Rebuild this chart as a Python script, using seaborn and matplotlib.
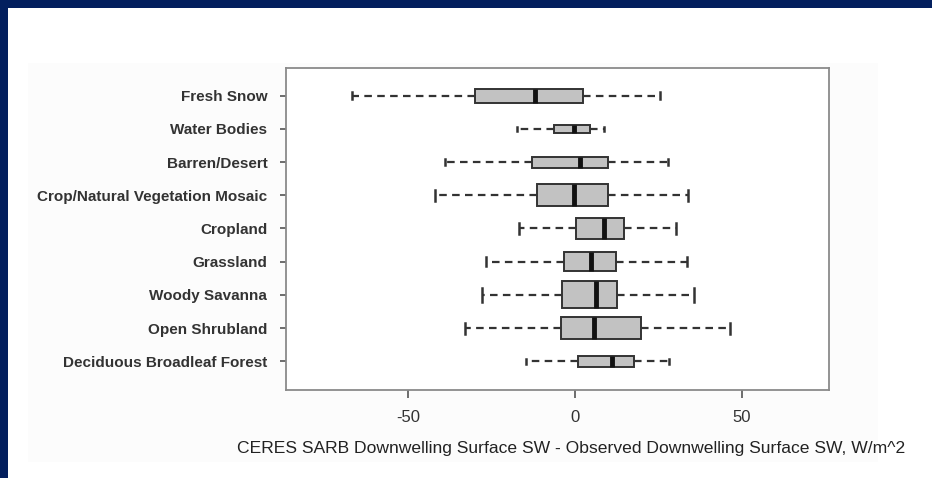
import numpy as np
import pandas as pd
import matplotlib
matplotlib.use("Agg")
import matplotlib.pyplot as plt
import seaborn as sns
from matplotlib.patches import Rectangle

# ---- data ----
categories = ["Fresh Snow", "Water Bodies", "Barren/Desert",
              "Crop/Natural Vegetation Mosaic", "Cropland", "Grassland",
              "Woody Savanna", "Open Shrubland", "Deciduous Broadleaf Forest"]
whisker_low = [-66.7, -17.4, -39.0, -42.0, -16.7, -26.6, -27.7, -32.8, -14.7]
q1 = [-30.0, -6.3, -12.8, -11.3, 0.4, -3.3, -3.8, -4.1, 1.0]
median = [-12.0, -0.4, 1.4, -0.2, 8.6, 4.7, 6.4, 5.8, 11.2]
q3 = [2.4, 4.4, 9.9, 9.9, 14.7, 12.3, 12.6, 19.7, 17.7]
whisker_high = [25.4, 8.8, 28.0, 33.8, 30.2, 33.6, 35.8, 46.5, 28.3]
x_ticks = [-50, 0, 50]
x_label = "CERES SARB Downwelling Surface SW - Observed Downwelling Surface SW, W/m^2"

# relative box widths (variable width boxes)
box_widths = [0.42, 0.24, 0.33, 0.66, 0.66, 0.57, 0.81, 0.65, 0.34]

rows = []
for i, c in enumerate(categories):
    for v in (whisker_low[i], q1[i], median[i], q3[i], whisker_high[i]):
        rows.append({"category": c, "value": v})
df = pd.DataFrame(rows)

W, H = 932, 478
fig = plt.figure(figsize=(W / 100, H / 100), dpi=100)
fig.patch.set_facecolor("white")

# navy frame (top and left) and faint panel
navy = "#031f5e"
fig.add_artist(Rectangle((0, 1 - 8 / H), 1, 8 / H, transform=fig.transFigure,
                         facecolor=navy, edgecolor="none", zorder=0))
fig.add_artist(Rectangle((0, 0), 8 / W, 1, transform=fig.transFigure,
                         facecolor=navy, edgecolor="none", zorder=0))
fig.add_artist(Rectangle((28 / W, 1 - 462 / H), (878 - 28) / W, (462 - 63) / H,
                         transform=fig.transFigure, facecolor="#fcfcfc",
                         edgecolor="none", zorder=0))

ax = fig.add_axes([286 / W, 1 - 390.3 / H, (828.7 - 286) / W, (390.3 - 68) / H])
ax.set_facecolor("white")

edge = "#333333"
for i, c in enumerate(categories):
    sns.boxplot(data=df[df["category"] == c], x="value", y="category",
                order=categories, orient="h", width=box_widths[i],
                whis=(0, 100), fliersize=0, color="#c2c2c2", saturation=1,
                linecolor=edge, linewidth=1.4,
                medianprops={"color": "#111111", "linewidth": 3.5},
                whiskerprops={"color": edge, "linewidth": 1.6,
                              "linestyle": (0, (3.4, 2.4))},
                capprops={"color": edge, "linewidth": 1.8},
                ax=ax)

ax.set_xlim(-86.5, 76.0)
ax.set_ylim(8.87, -0.83)
ax.set_xticks(x_ticks)
ax.set_xticklabels([str(t) for t in x_ticks])
ax.set_yticks(range(len(categories)))
ax.set_yticklabels(categories)
ax.set_ylabel("")
ax.set_xlabel(x_label, fontsize=12.6, color="#222222", family="Liberation Sans")
ax.xaxis.set_label_coords(0.525, -0.157)
for lab in ax.get_yticklabels():
    lab.set_fontfamily("Liberation Sans")
    lab.set_fontweight("bold")
    lab.set_fontsize(11)
    lab.set_color("#333333")
for lab in ax.get_xticklabels():
    lab.set_fontfamily("Liberation Sans")
    lab.set_fontsize(12)
    lab.set_color("#333333")
ax.tick_params(axis="y", length=4.5, width=1.2, color="#555555", pad=9)
ax.tick_params(axis="x", length=6, width=1.2, color="#555555", pad=8)
for s in ax.spines.values():
    s.set_color("#8a8a8a")
    s.set_linewidth(1.3)
ax.grid(False)

fig.savefig("out.png", dpi=100)
